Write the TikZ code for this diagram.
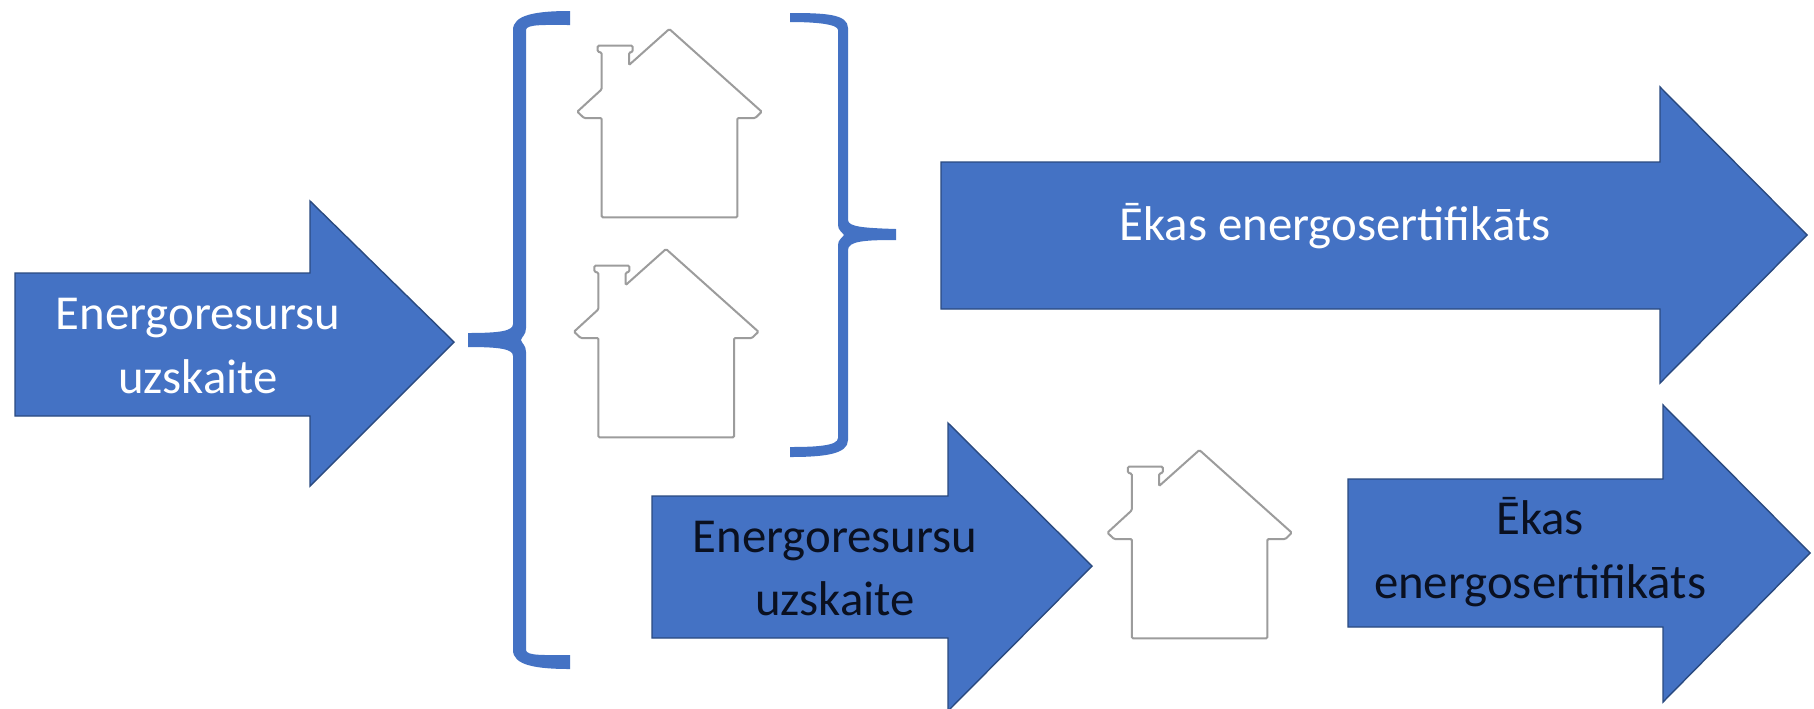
\documentclass[tikz,border=0pt]{standalone}
\usepackage{fontspec}
\setmainfont{Carlito}
\definecolor{blueA}{HTML}{4472C4}
\definecolor{edgeA}{HTML}{2A4A80}
\definecolor{houseC}{HTML}{9C9C9C}
\definecolor{inkA}{HTML}{0A1020}
\tikzset{
  arrowshape/.style={fill=blueA,draw=edgeA,line width=0.7pt,line join=miter},
  bracketshape/.style={fill=blueA,draw=none},
  lbl/.style={font=\fontsize{24.4}{32}\selectfont,align=center,inner sep=0pt,anchor=base},
  housepic/.pic={
    \draw[draw=houseC,line width=1pt,fill=white,rounded corners=0.6pt]
      (0,0) -- (92.4,82.7) -- (86,89) -- (68,89) -- (68,188.3) -- (-67.6,188.3) -- (-67.6,89)
      -- (-85.3,89) -- (-92,82.7) -- (-67.6,60.3) -- (-67.6,23.7) -- (-71.6,22.7) -- (-71.6,16.7)
      -- (-36.6,16.7) -- (-36.6,22.7) -- (-40.3,23.7) -- (-40.3,36) -- cycle;
  }
}
\begin{document}
\begin{tikzpicture}[x=0.5pt,y=-0.5pt]
\clip (0,0) rectangle (1814,708);
\fill[white] (0,0) rectangle (1814,708);
% arrows
\draw[arrowshape] (15,273) -- (310,273) -- (310,201) -- (454,342) -- (310,486) -- (310,416) -- (15,416) -- cycle;
\draw[arrowshape] (941,162) -- (1660,162) -- (1660,87) -- (1807,235) -- (1660,383) -- (1660,309) -- (941,309) -- cycle;
\draw[arrowshape] (652,496) -- (948,496) -- (948,423) -- (1092,566) -- (948,711) -- (948,638) -- (652,638) -- cycle;
\draw[arrowshape] (1348,479) -- (1663,479) -- (1663,405) -- (1810,553) -- (1663,702) -- (1663,627) -- (1348,627) -- cycle;
% left bracket
\fill[bracketshape] (570,11) .. controls (535,11) and (513,15) .. (513,30) -- (513,324)
  .. controls (513,331) and (500,333) .. (468,333) -- (468,347)
  .. controls (500,347) and (513,349) .. (513,356) -- (513,650)
  .. controls (513,665) and (535,669) .. (570,669) -- (570,655)
  .. controls (545,655) and (526,656) .. (526,650) -- (526,352) .. controls (526,345) and (522,344) .. (521,340)
  .. controls (522,336) and (526,335) .. (526,328) -- (526,30)
  .. controls (526,24) and (545,25) .. (570,25) -- cycle;
% right bracket
\fill[bracketshape] (790,13) .. controls (825,13) and (848,14) .. (848,28) -- (848,220)
  .. controls (848,227) and (865,228) .. (896,229) -- (896,240)
  .. controls (865,240) and (848,241) .. (848,250) -- (848,440)
  .. controls (848,454) and (825,457) .. (790,457) -- (790,447)
  .. controls (815,447) and (838,446) .. (838,438) -- (838,245) .. controls (838,240) and (842,238) .. (844,235)
  .. controls (842,232) and (838,230) .. (838,225) -- (838,30)
  .. controls (838,24) and (815,22) .. (790,22) -- cycle;
% houses
\pic at (669.3,29) {housepic};
\pic at (666,249) {housepic};
\pic at (1199.4,450) {housepic};
% labels
\node[lbl,text=white] (e1) at (198,329) {Energoresursu};
\node[lbl,text=white] (u1) at (198,393) {uzskaite};
\node[lbl,text=white] (c1) at (1335,240) {Ēkas energosertifikāts};
\node[lbl,text=inkA] (e2) at (835,552) {Energoresursu};
\node[lbl,text=inkA] (u2) at (835,615) {uzskaite};
\node[lbl,text=inkA] (k2) at (1540,534) {Ēkas};
\node[lbl,text=inkA] (c2) at (1540,598) {energosertifikāts};
\end{tikzpicture}
\end{document}
